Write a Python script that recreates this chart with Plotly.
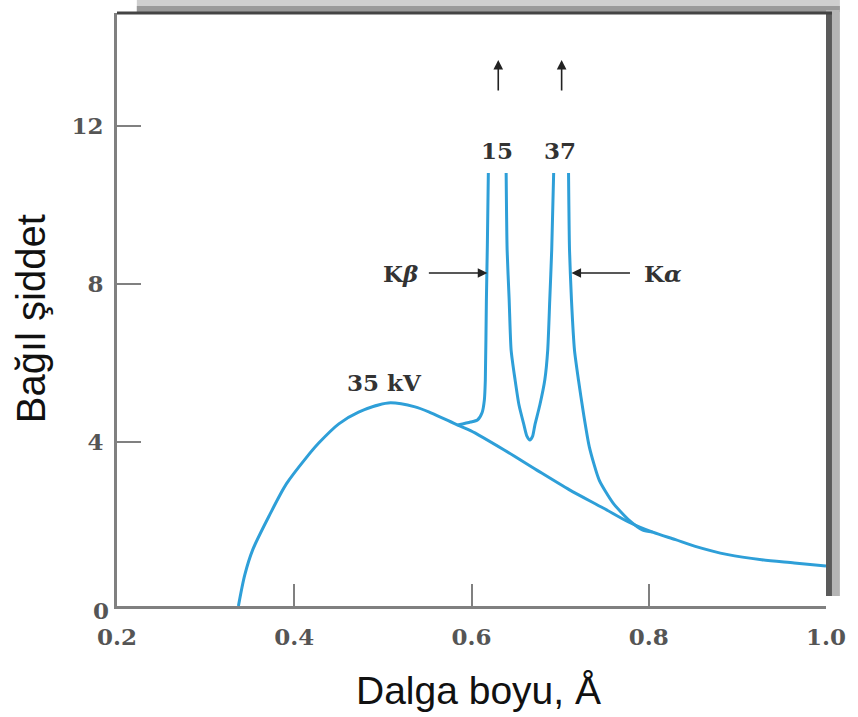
import plotly.graph_objects as go

# Continuous (bremsstrahlung) spectrum at 35 kV
cont_x = [0.337, 0.3441, 0.3531, 0.3721, 0.3911, 0.4134, 0.4279, 0.4503, 0.4726,
          0.5061, 0.5363, 0.5542, 0.5844, 0.5989, 0.6369, 0.6737, 0.7106, 0.7486, 0.7777,
          0.8045, 0.8302, 0.8525, 0.8894, 0.9274, 0.9642, 1.0]
cont_y = [-0.15, 0.63, 1.27, 2.15, 2.94, 3.60, 3.98, 4.46, 4.76,
          4.99, 4.89, 4.74, 4.43, 4.29, 3.80, 3.29, 2.79, 2.33, 1.97,
          1.72, 1.53, 1.36, 1.15, 1.02, 0.94, 0.86]

# Characteristic lines (K-beta and K-alpha), going off scale at the top
kb_x = [0.5844, 0.5989, 0.6067, 0.6120, 0.6145, 0.6156, 0.6168, 0.6179, 0.6190]
kb_y = [4.43, 4.506, 4.557, 4.75, 5.063, 5.57, 7.595, 9.0, 10.81]

mid_x = [0.6391, 0.6402, 0.6425, 0.6447, 0.6492, 0.6536, 0.6592, 0.6625, 0.6659, 0.6690,
         0.6715, 0.6771, 0.6827, 0.6860, 0.6883, 0.6905, 0.6927]
mid_y = [10.81, 8.861, 7.595, 6.329, 5.57, 4.937, 4.43, 4.15, 4.051, 4.15,
         4.43, 4.937, 5.57, 6.329, 7.595, 8.861, 10.81]

ka_x = [0.7095, 0.7106, 0.7128, 0.7162, 0.7207, 0.7263, 0.7330, 0.7441, 0.7598, 0.7777,
        0.7933, 0.8045]
ka_y = [10.81, 8.861, 7.595, 6.329, 5.57, 4.734, 3.873, 3.038, 2.456, 2.025,
        1.772, 1.72]

x_ticks = [0.2, 0.4, 0.6, 0.8, 1.0]
x_tick_text = ["0.2", "0.4", "0.6", "0.8", "1.0"]
y_ticks = [4, 8, 12]
y_tick_text = ["4", "8", "12"]

LINE = "#2E9FD8"
TICKFONT = dict(family="DejaVu Serif", size=23, color="#555555", weight="bold")
LABFONT = dict(family="DejaVu Serif", size=23, color="#333333", weight="bold")

fig = go.Figure()
fig.add_trace(go.Scatter(x=cont_x, y=cont_y, mode="lines",
                         line=dict(color=LINE, width=3, shape="spline", smoothing=0.8),
                         showlegend=False, hoverinfo="skip"))
char_x = kb_x + [None] + mid_x + [None] + ka_x
char_y = kb_y + [None] + mid_y + [None] + ka_y
fig.add_trace(go.Scatter(x=char_x, y=char_y, mode="lines", connectgaps=False,
                         line=dict(color=LINE, width=3, shape="spline", smoothing=0.6),
                         showlegend=False, hoverinfo="skip"))

ann = []
ann.append(dict(x=0.629, y=11.39, text="15", showarrow=False, font=LABFONT))
ann.append(dict(x=0.6994, y=11.39, text="37", showarrow=False, font=LABFONT))
ann.append(dict(x=0.5196, y=8.278, text="K<i>β</i>", showarrow=False, font=LABFONT))
ann.append(dict(x=0.8156, y=8.278, text="K<i>α</i>", showarrow=False, font=LABFONT))
ann.append(dict(x=0.5017, y=5.52, text="35 kV", showarrow=False, font=LABFONT))
# arrows
for hx, hy, axp, ayp in [(0.6179, 8.278, -60, 0), (0.7128, 8.278, 60, 0),
                         (0.6302, 13.67, 0, 32), (0.7017, 13.67, 0, 32)]:
    ann.append(dict(x=hx, y=hy, ax=axp, ay=ayp, text="", showarrow=True,
                    arrowhead=2, arrowsize=1.2, arrowwidth=1.6, arrowcolor="#222222"))
# "0" label at the corner
ann.append(dict(xref="paper", yref="paper", x=-0.036, y=-0.033, text="0",
                showarrow=False, font=TICKFONT))
# axis titles
ann.append(dict(xref="paper", yref="paper", x=0.51, y=-0.142, text="Dalga boyu, Å",
                showarrow=False, font=dict(family="Liberation Sans", size=39, color="#111111"),
                yanchor="middle"))
ann.append(dict(xref="paper", yref="paper", x=-0.154, y=0.485, text="Bağıl şiddet",
                showarrow=False, textangle=-90,
                font=dict(family="Liberation Sans", size=40, color="#111111")))

def px(xp):
    return (xp - 117) / 715.0

def py(yp):
    return (606 - yp) / 593.0

shapes = [
    # top shadow
    dict(type="rect", xref="paper", yref="paper", x0=px(137), x1=px(846), y0=py(12), y1=py(0),
         fillcolor="#cfcfcf", line=dict(width=0), layer="below"),
    dict(type="rect", xref="paper", yref="paper", x0=px(137), x1=px(846), y0=py(12), y1=py(6),
         fillcolor="#9a9a9a", line=dict(width=0), layer="below"),
    # right shadow
    dict(type="rect", xref="paper", yref="paper", x0=px(832), x1=px(846), y0=py(596), y1=py(10),
         fillcolor="#b5b5b5", line=dict(width=0), layer="below"),
    dict(type="rect", xref="paper", yref="paper", x0=px(832), x1=px(838), y0=py(596), y1=py(12),
         fillcolor="#5a5a5a", line=dict(width=0)),
    # top border
    dict(type="line", xref="paper", yref="paper", x0=0, x1=px(838), y0=1, y1=1,
         line=dict(color="#444444", width=3)),
]

fig.update_layout(
    width=858, height=717,
    margin=dict(l=117, r=26, t=13, b=111),
    paper_bgcolor="white", plot_bgcolor="white",
    annotations=ann, shapes=shapes,
    xaxis=dict(range=[0.2, 1.0], tickvals=x_ticks, ticktext=x_tick_text,
               ticks="inside", ticklen=22, tickwidth=2, tickcolor="#808080",
               showline=True, linecolor="#808080", linewidth=3, mirror=False,
               showgrid=False, zeroline=False, tickfont=TICKFONT, ticklabelstandoff=8),
    yaxis=dict(range=[-0.15, 14.86], tickvals=y_ticks, ticktext=y_tick_text,
               ticks="inside", ticklen=24, tickwidth=2, tickcolor="#808080",
               showline=True, linecolor="#808080", linewidth=3, mirror=False,
               showgrid=False, zeroline=False, tickfont=TICKFONT, ticklabelstandoff=6),
)

fig.write_html("out.html")
